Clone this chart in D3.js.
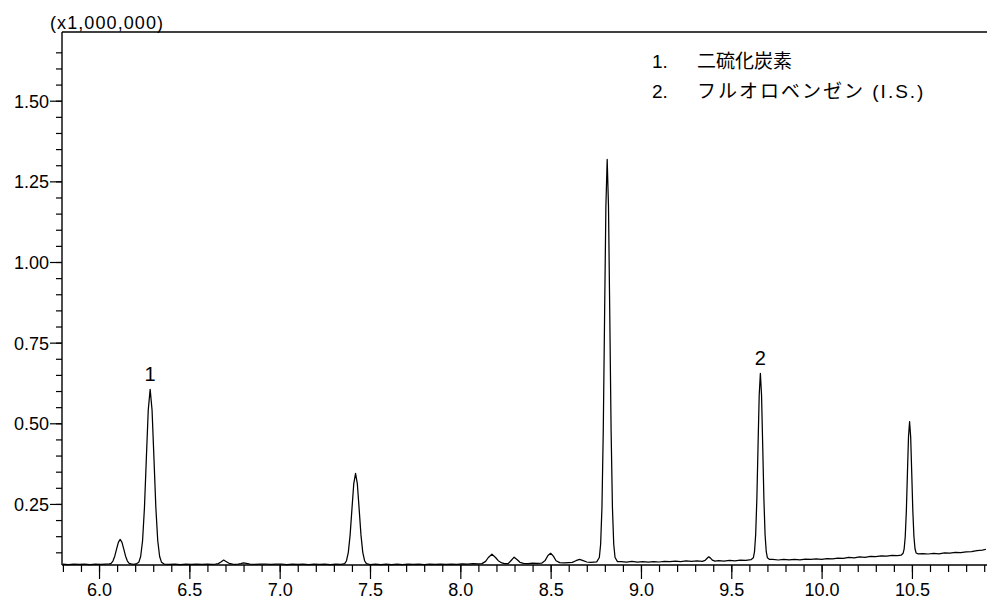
<!DOCTYPE html>
<html><head><meta charset="utf-8">
<script src="https://cdn.jsdelivr.net/npm/d3@7"></script>
<style>html,body{margin:0;padding:0;background:#fff;} svg{display:block;}</style>
</head><body>
<svg id="chart" width="987" height="601"></svg>
<script>
// Retention time (min) and signal (x1,000,000)
const retentionTime = [
5.80,5.83,5.86,5.89,5.92,5.95,5.98,6.01,6.035,
6.057,6.067,6.077,6.087,6.097,6.107,6.117,6.127,6.137,6.147,6.157,6.167,6.177,
6.19,6.205,
6.220,6.2305,6.241,6.2515,6.262,6.2725,6.283,6.2935,6.304,6.3145,6.325,6.3355,6.346,
6.36,6.39,6.42,6.45,6.48,6.51,6.54,6.57,6.60,6.625,
6.645,6.66,6.675,6.69,6.705,6.72,6.74,
6.755,6.77,6.785,6.80,6.815,6.835,
6.86,6.89,6.92,6.95,6.98,7.01,7.04,7.07,7.10,7.13,7.16,7.19,7.22,7.25,7.28,7.31,7.34,
7.36,7.37,7.38,7.39,7.40,7.41,7.42,7.43,7.44,7.45,7.46,7.47,7.48,
7.50,7.53,7.56,7.59,7.62,7.65,7.68,7.71,7.74,7.77,7.80,7.83,7.86,7.89,7.92,7.95,7.98,8.01,8.04,8.07,8.10,
8.12,8.14,8.155,8.175,8.195,8.21,8.23,8.245,
8.265,8.28,8.298,8.315,8.33,8.35,
8.375,8.40,8.425,8.45,
8.47,8.485,8.50,8.515,8.53,8.55,
8.575,8.60,8.62,8.64,8.66,8.68,8.70,8.72,8.74,
8.755,8.7695,8.77675,8.784,8.79125,8.7985,8.80575,8.813,8.82025,8.8275,8.83475,8.842,8.84925,8.8565,8.87,
8.89,8.92,8.95,8.98,9.01,9.04,9.07,9.10,9.13,9.16,9.19,9.22,9.25,9.28,9.31,9.34,
9.355,9.365,9.375,9.385,9.395,9.41,
9.43,9.46,9.49,9.52,9.55,9.58,9.60,
9.609,9.622,9.6285,9.635,9.6415,9.648,9.6545,9.661,9.6675,9.674,9.6805,9.687,9.6935,9.700,9.712,
9.73,9.76,9.79,9.82,9.85,9.88,9.91,9.94,9.97,10.00,10.03,10.06,10.09,10.12,10.15,10.18,10.21,10.24,10.27,10.30,10.33,10.36,10.39,10.42,
10.44,10.451,10.457,10.463,10.469,10.475,10.481,10.487,10.493,10.499,10.505,10.511,10.517,10.523,10.535,
10.56,10.59,10.62,10.65,10.68,10.71,10.74,10.77,10.80,10.83,10.86,10.89,10.91
];
const intensity = [
0.0634,0.0622,0.0636,0.0624,0.0635,0.0621,0.0633,0.0623,0.0634,
0.064,0.066,0.073,0.088,0.110,0.131,0.140,0.131,0.110,0.088,0.073,0.066,0.064,
0.0626,0.064,
0.069,0.087,0.136,0.239,0.392,0.541,0.605,0.541,0.392,0.239,0.136,0.087,0.069,
0.0637,0.0624,0.0636,0.0622,0.0635,0.0624,0.0637,0.0623,0.0634,0.0626,
0.0635,0.065,0.070,0.076,0.071,0.066,0.0635,
0.0626,0.0634,0.065,0.067,0.066,0.0635,
0.0624,0.0636,0.0638,0.0623,0.0634,0.0638,0.0622,0.0635,0.0624,0.0633,0.0621,0.0634,0.0623,0.0635,0.0622,0.0633,0.0624,
0.065,0.074,0.100,0.154,0.234,0.312,0.345,0.312,0.234,0.154,0.100,0.074,0.065,
0.0621,0.0633,0.0620,0.0632,0.0622,0.0634,0.0621,0.0633,0.0623,0.0635,0.0622,0.0634,0.0624,0.0636,0.0625,0.0637,0.0626,0.0639,0.0635,0.0648,0.0644,
0.065,0.072,0.084,0.094,0.084,0.074,0.067,0.065,
0.065,0.074,0.085,0.077,0.069,0.066,
0.0652,0.0666,0.0655,0.0664,
0.075,0.090,0.097,0.088,0.074,0.068,
0.0672,0.0684,0.069,0.074,0.078,0.074,0.070,0.0686,0.0698,
0.0705,0.084,0.125,0.239,0.475,0.827,1.171,1.318,1.171,0.827,0.475,0.239,0.125,0.084,0.071,
0.0712,0.0695,0.0718,0.0698,0.0714,0.0696,0.0711,0.0700,0.0722,0.0708,0.0728,0.0714,0.0734,0.0718,0.0733,0.0722,
0.075,0.081,0.086,0.082,0.076,0.0725,
0.0742,0.0728,0.0748,0.0736,0.0760,0.0748,0.0768,
0.077,0.083,0.102,0.155,0.265,0.428,0.587,0.655,0.587,0.428,0.265,0.155,0.102,0.083,0.078,
0.0782,0.0762,0.0781,0.0764,0.0784,0.0768,0.0790,0.0778,0.0795,0.0784,0.0808,0.0796,0.0822,0.0810,0.0840,0.0828,0.0858,0.0846,0.0874,0.0864,0.0890,0.0880,0.0902,0.0895,
0.091,0.097,0.111,0.149,0.227,0.344,0.458,0.505,0.458,0.344,0.227,0.149,0.111,0.098,0.095,
0.0962,0.0948,0.0966,0.0955,0.0980,0.0972,0.0995,0.0988,0.1015,0.1022,0.1050,0.1068,0.1095
];
const xTickValues = [6.0, 6.5, 7.0, 7.5, 8.0, 8.5, 9.0, 9.5, 10.0, 10.5];
const yTickValues = [0.25, 0.50, 0.75, 1.00, 1.25, 1.50];
const peakLabels = ["1", "2"];
const peakLabelTimes = [6.283, 9.661];
const peakLabelValues = [0.605, 0.655];
const legendNumbers = ["1.", "2."];
const legendNames = ["二硫化炭素", "フルオロベンゼン (I.S.)"];
const yUnitLabel = "(x1,000,000)";

const svg = d3.select("#chart");
const W = 987, H = 601;
const plotLeft = 62, plotTop = 32, plotBottom = 565, plotRight = 986;
const fontFamily = "'Liberation Sans', Arial, 'Noto Sans CJK JP', sans-serif";

svg.append("rect").attr("width", W).attr("height", H).attr("fill", "#fff");

const x = d3.scaleLinear().domain([5.795, 10.91]).range([plotLeft, plotRight]);
const y = d3.scaleLinear().domain([0.0607, 1.713]).range([plotBottom, plotTop]);

// minor ticks
const minorX = d3.range(58, 110).map(d => d / 10);
const minorY = d3.range(2, 34).map(d => d * 0.05);

const xMinor = svg.append("g").attr("transform", `translate(0,${plotBottom})`)
  .call(d3.axisBottom(x).tickValues(minorX).tickSize(7).tickSizeOuter(0).tickFormat(""));
xMinor.select(".domain").remove();
const yMinor = svg.append("g").attr("transform", `translate(${plotLeft},0)`)
  .call(d3.axisLeft(y).tickValues(minorY).tickSize(6).tickSizeOuter(0).tickFormat(""));
yMinor.select(".domain").remove();

const xAxis = svg.append("g").attr("transform", `translate(0,${plotBottom})`)
  .call(d3.axisBottom(x).tickValues(xTickValues).tickSize(14).tickPadding(4).tickSizeOuter(0).tickFormat(d3.format(".1f")));
xAxis.select(".domain").remove();
const yAxis = svg.append("g").attr("transform", `translate(${plotLeft},0)`)
  .call(d3.axisLeft(y).tickValues(yTickValues).tickSize(12).tickPadding(1).tickSizeOuter(0).tickFormat(d3.format(".2f")));
yAxis.select(".domain").remove();

svg.selectAll(".tick line").attr("stroke", "#000").attr("stroke-width", 1.2);
svg.selectAll(".tick text").attr("fill", "#000").attr("font-size", 18).attr("font-family", fontFamily);
yAxis.selectAll(".tick text").attr("dy", "0.36em");

// frame lines
svg.append("line").attr("x1", plotLeft).attr("x2", W).attr("y1", plotBottom).attr("y2", plotBottom).attr("stroke", "#000").attr("stroke-width", 1.4);
svg.append("line").attr("x1", plotLeft).attr("x2", plotLeft).attr("y1", plotTop).attr("y2", plotBottom).attr("stroke", "#000").attr("stroke-width", 1.4);
svg.append("line").attr("x1", plotLeft).attr("x2", W).attr("y1", plotTop).attr("y2", plotTop).attr("stroke", "#000").attr("stroke-width", 1.4);

// trace
const pts = retentionTime.map((t, i) => [t, intensity[i]]);
svg.append("path").datum(pts)
  .attr("fill", "none").attr("stroke", "#000").attr("stroke-width", 1.25)
  .attr("stroke-linejoin", "round")
  .attr("d", d3.line().x(d => x(d[0])).y(d => y(d[1])).curve(d3.curveLinear));

// peak labels
svg.selectAll("text.peak").data(peakLabels).join("text").attr("class", "peak")
  .attr("x", (d, i) => x(peakLabelTimes[i]))
  .attr("y", (d, i) => y(peakLabelValues[i]) - 8)
  .attr("text-anchor", "middle").attr("font-size", 20).attr("font-family", fontFamily).attr("fill", "#000")
  .text(d => d);

// legend
svg.selectAll("text.legnum").data(legendNumbers).join("text").attr("class", "legnum")
  .attr("x", 652).attr("y", (d, i) => 68 + i * 30)
  .attr("font-size", 19).attr("font-family", fontFamily).attr("fill", "#000")
  .text(d => d);
const legendName = svg.selectAll("text.legname").data(legendNames).join("text").attr("class", "legname")
  .attr("x", 697).attr("y", (d, i) => 68 + i * 30)
  .attr("font-size", 19).attr("font-family", fontFamily).attr("fill", "#000")
  .text(d => d);
legendName.filter((d, i) => i === 1).attr("letter-spacing", 2);

// unit label
svg.append("text").attr("x", 50).attr("y", 29).attr("font-size", 18).attr("font-family", fontFamily).attr("fill", "#000")
  .attr("textLength", 113).attr("lengthAdjust", "spacing")
  .text(yUnitLabel);
</script>
</body></html>
